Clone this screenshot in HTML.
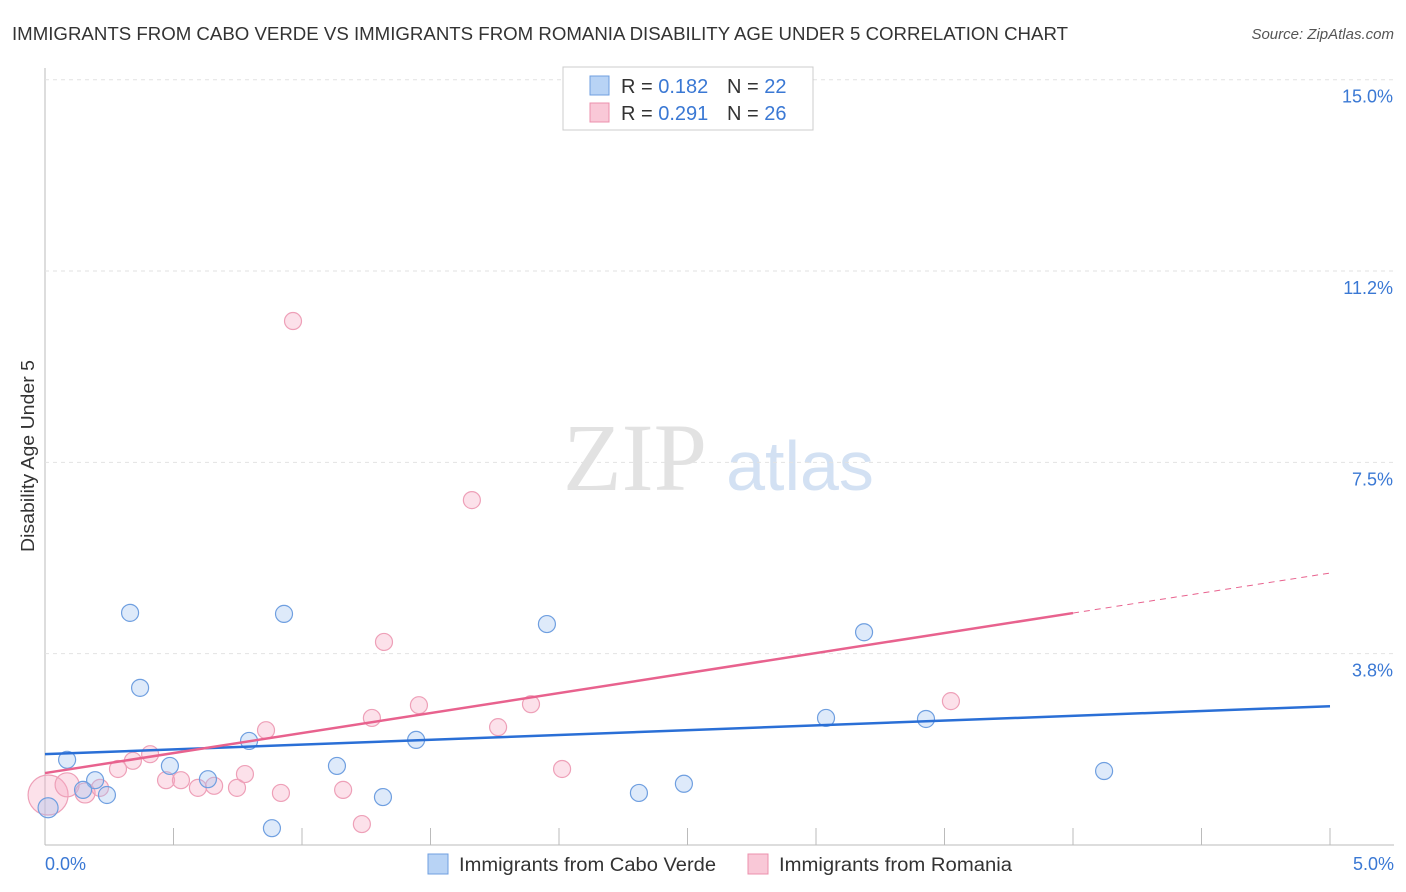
<!DOCTYPE html>
<html><head><meta charset="utf-8"><style>
body{margin:0;background:#fff;font-family:"Liberation Sans",sans-serif}
svg{display:block}
</style></head><body>
<svg width="1406" height="892">
<text x="12" y="40" font-size="18" fill="#333" textLength="1056" lengthAdjust="spacingAndGlyphs">IMMIGRANTS FROM CABO VERDE VS IMMIGRANTS FROM ROMANIA DISABILITY AGE UNDER 5 CORRELATION CHART</text>
<text x="1394" y="39" font-size="15" fill="#555" font-style="italic" text-anchor="end">Source: ZipAtlas.com</text>
<text x="635" y="490" font-size="96" fill="#e2e2e2" font-family="Liberation Serif,serif" text-anchor="middle">ZIP</text>
<text x="800" y="490" font-size="70" fill="#d3e1f3" text-anchor="middle">atlas</text>
<g id="grid"></g><g id="pts"></g><g id="trend"></g>
<text transform="translate(34,456) rotate(-90)" font-size="18" fill="#333" text-anchor="middle" textLength="192" lengthAdjust="spacingAndGlyphs">Disability Age Under 5</text>
<text x="45" y="870" font-size="18" fill="#3a78d4">0.0%</text>
<text x="1394" y="870" font-size="18" fill="#3a78d4" text-anchor="end">5.0%</text>
<g>
<rect x="563" y="67" width="250" height="63" fill="#fff" stroke="#ccc"/>
<rect x="590" y="76" width="19" height="19" fill="#b8d3f5" stroke="#6f9fe0"/>
<rect x="590" y="103" width="19" height="19" fill="#f9c8d7" stroke="#ec90ac"/>
<text x="621" y="93" font-size="20" fill="#333">R = <tspan fill="#3a78d4">0.182</tspan><tspan x="727">N = </tspan><tspan fill="#3a78d4">22</tspan></text>
<text x="621" y="120" font-size="20" fill="#333">R = <tspan fill="#3a78d4">0.291</tspan><tspan x="727">N = </tspan><tspan fill="#3a78d4">26</tspan></text>
</g>
<g><rect x="428" y="854" width="20" height="20" fill="#b8d3f5" stroke="#6f9fe0"/><text x="459" y="871" font-size="19" fill="#333" textLength="257" lengthAdjust="spacingAndGlyphs">Immigrants from Cabo Verde</text></g>
<g><rect x="748" y="854" width="20" height="20" fill="#f9c8d7" stroke="#ec90ac"/><text x="779" y="871" font-size="19" fill="#333" textLength="233" lengthAdjust="spacingAndGlyphs">Immigrants from Romania</text></g>
</svg>
<script>
const yTicks=[3.75,7.5,11.25,15.0];
const yTickLabels=["3.8%","7.5%","11.2%","15.0%"];
const blueX=[0.012,0.086,0.195,0.148,0.241,0.331,0.370,0.486,0.634,0.794,0.883,0.930,1.136,1.315,1.444,1.953,2.311,2.486,3.039,3.428,3.187,4.121];
const blueY=[0.73,1.67,1.27,1.08,0.98,4.55,3.08,1.55,1.29,2.04,0.33,4.53,1.55,0.94,2.06,4.33,1.02,1.20,2.49,2.47,4.17,1.45];
const pinkX=[0.012,0.086,0.156,0.214,0.284,0.342,0.409,0.471,0.529,0.595,0.658,0.747,0.778,0.860,0.918,0.965,1.160,1.233,1.272,1.319,1.455,1.661,1.763,1.891,2.012,3.525];
const pinkY=[0.98,1.18,1.02,1.12,1.49,1.65,1.78,1.27,1.27,1.12,1.16,1.12,1.39,2.25,1.02,10.27,1.08,0.41,2.49,3.98,2.74,6.76,2.31,2.76,1.49,2.82];
const pinkR=[20,12,10,8.5,8.5,8.5,8.5,8.5,8.5,8.5,8.5,8.5,8.5,8.5,8.5,8.5,8.5,8.5,8.5,8.5,8.5,8.5,8.5,8.5,8.5,8.5];
const blueTrend=[1.78,2.72];
const pinkTrend=[1.41,5.33];
const NS="http://www.w3.org/2000/svg";
const sx=v=>45+v*257, sy=v=>845-v*51.02;
function mk(t,a,p){const e=document.createElementNS(NS,t);for(const k in a)e.setAttribute(k,a[k]);p.appendChild(e);return e;}
const g=document.getElementById('grid');
mk('line',{x1:45,y1:68,x2:45,y2:845,stroke:'#bbb'},g);
mk('line',{x1:45,y1:845,x2:1394,y2:845,stroke:'#bbb'},g);
for(let i=0;i<=10;i++){const l=mk('line',{x1:sx(i*0.5),y1:828,x2:sx(i*0.5),y2:845,stroke:'#bbb'},g);

}
yTicks.forEach((v,i)=>{const l=mk('line',{x1:45,y1:sy(v),x2:1394,y2:sy(v),stroke:'#e2e2e2','stroke-dasharray':'4,4'},g);


const t=mk('text',{x:1393,y:sy(v)+23,'font-size':18,fill:'#3a78d4','text-anchor':'end'},g);t.textContent=yTickLabels[i];

});
const p=document.getElementById('pts');
pinkX.forEach((x,i)=>{const c=mk('circle',{cx:sx(x),cy:sy(pinkY[i]),r:pinkR[i],fill:'rgba(245,170,195,0.35)',stroke:'#eea0b8','stroke-width':1.2},p);

});
blueX.forEach((x,i)=>{const c=mk('circle',{cx:sx(x),cy:sy(blueY[i]),r:i==0?10:8.5,fill:'rgba(160,195,240,0.35)',stroke:'#6f9fe0','stroke-width':1.2},p);

});
const tr=document.getElementById('trend');
let l=mk('line',{x1:sx(0),y1:sy(blueTrend[0]),x2:sx(5),y2:sy(blueTrend[1]),stroke:'#2a6fd6','stroke-width':2.5},tr);


const pAt=x=>pinkTrend[0]+(pinkTrend[1]-pinkTrend[0])*x/5;
l=mk('line',{x1:sx(0),y1:sy(pAt(0)),x2:sx(4),y2:sy(pAt(4)),stroke:'#e8628e','stroke-width':2.5},tr);


l=mk('line',{x1:sx(4),y1:sy(pAt(4)),x2:sx(5),y2:sy(pAt(5)),stroke:'#e8628e','stroke-width':1,'stroke-dasharray':'6,5'},tr);


</script>
</body></html>
